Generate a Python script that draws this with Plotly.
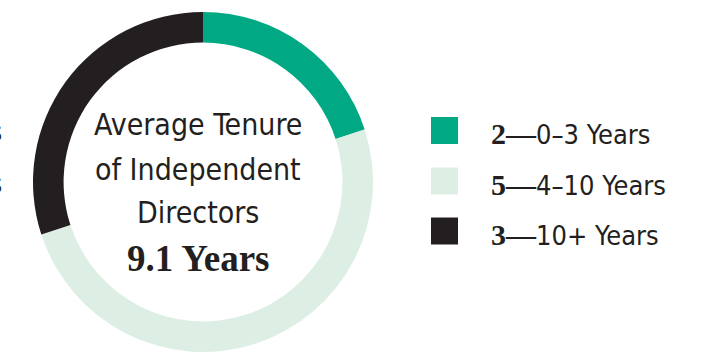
import plotly.graph_objects as go

# Tenure groups of independent directors
labels = ["0–3 Years", "4–10 Years", "10+ Years"]
counts = [2, 5, 3]
colors = ["#00A984", "#DDEFE4", "#231F20"]
average_tenure = 9.1

W, H = 710, 354
SANS = "DejaVu Sans Condensed, Liberation Sans Narrow, sans-serif"
SERIF = "Liberation Serif"
INK = "#231F20"


def px(x, y):
    return x / W, 1 - y / H


fig = go.Figure(
    go.Pie(
        labels=labels,
        values=counts,
        marker=dict(colors=colors, line=dict(width=0)),
        hole=0.82,
        sort=False,
        direction="clockwise",
        rotation=0,
        textinfo="none",
        hoverinfo="label+value",
        showlegend=False,
        domain=dict(x=[33 / W, 373 / W], y=[1 - 352 / H, 1 - 12 / H]),
    )
)

annotations = []
shapes = []

# Centre caption
cx = 198
for text, yc in [("Average Tenure", 124), ("of Independent", 169), ("Directors", 213)]:
    x, y = px(cx, yc)
    annotations.append(dict(x=x, y=y, xref="paper", yref="paper", text=text,
                            showarrow=False, xanchor="center", yanchor="middle",
                            font=dict(family=SANS, size=30, color=INK)))
x, y = px(cx, 258)
annotations.append(dict(x=x, y=y, xref="paper", yref="paper",
                        text=f"<b>{average_tenure} Years</b>", showarrow=False,
                        xanchor="center", yanchor="middle",
                        font=dict(family=SERIF, size=37, color=INK)))

# Legend: swatch, bold count with em dash, then the range
row_y = [130.5, 181, 231]
for lab, n, col, yc in zip(labels, counts, colors, row_y):
    x0, y0 = px(431, yc - 13.5)
    x1, y1 = px(458, yc + 13.5)
    shapes.append(dict(type="rect", xref="paper", yref="paper", x0=x0, x1=x1,
                       y0=y1, y1=y0, fillcolor=col, line=dict(width=0)))
    x, y = px(489, yc + 3)
    annotations.append(dict(
        x=x, y=y, xref="paper", yref="paper", showarrow=False,
        xanchor="left", yanchor="middle",
        text=(f'<span style="font-family:{SERIF};font-weight:bold;font-size:30px">'
              f"{n}—</span>{lab}"),
        font=dict(family=SANS, size=27, color=INK)))

# Edge of the neighbouring legend
for yc in [132, 184]:
    x, y = px(4, yc)
    annotations.append(dict(x=x, y=y, xref="paper", yref="paper", text="s",
                            showarrow=False, xanchor="right", yanchor="middle",
                            font=dict(family=SANS, size=26, color=INK)))

fig.update_layout(
    width=W, height=H,
    margin=dict(l=0, r=0, t=0, b=0),
    paper_bgcolor="white", plot_bgcolor="white",
    annotations=annotations, shapes=shapes,
)

fig.write_html("out.html")
